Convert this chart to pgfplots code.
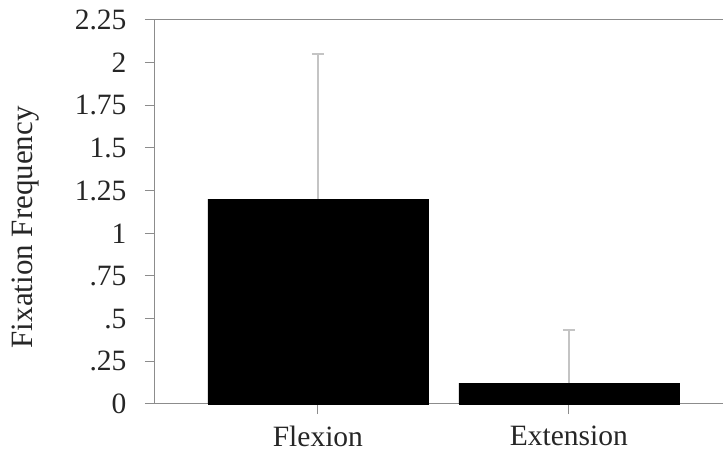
\documentclass[border=0pt]{standalone}
\usepackage{fontspec}
\setmainfont{Liberation Serif}
\usepackage{pgfplots}
\pgfplotsset{compat=1.18}
\definecolor{axgray}{HTML}{8C8C8C}
\definecolor{errgray}{HTML}{C4C4C4}
\begin{document}
\begin{tikzpicture}
\begin{axis}[
  name=ax,
  scale only axis,
  width=568pt, height=384pt,
  xmin=0.351, xmax=2.614,
  ymin=0, ymax=2.25,
  axis x line=box,
  axis y line=left,
  xtick pos=bottom,
  axis line style={-, draw=axgray, line width=1pt},
  tick align=outside,
  major tick length=10pt,
  tick style={draw=axgray, line width=1pt},
  xtick={1,2},
  xticklabels={Flexion,Extension},
  x tick label style={yshift=-8pt},
  ytick={0,0.25,0.5,0.75,1,1.25,1.5,1.75,2,2.25},
  yticklabels={0,.25,.5,.75,1,1.25,1.5,1.75,2,2.25},
  y tick label style={xshift=-15pt},
  ticklabel style={font=\fontsize{29.5}{34}\selectfont, text=black!85},
  ylabel={Fixation Frequency},
  every axis y label/.style={at={(axis description cs:-0.228,0.46)}, rotate=90, anchor=center, font=\fontsize{31}{36}\selectfont, text=black!85},
  ybar, bar width=220pt,
  clip=false,
]
\addplot[fill=black, draw=black,
  error bars/.cd, y dir=plus, y explicit,
  error bar style={draw=errgray, line width=1.6pt},
  error mark options={rotate=90, mark size=6pt, draw=errgray, line width=1.6pt}]
  coordinates {(1,1.2) +- (0,0.85) (2,0.123) +- (0,0.31)};
\end{axis}
\pgfresetboundingbox
\useasboundingbox ([xshift=-155pt,yshift=-48pt]ax.south west) rectangle ([yshift=20pt]ax.north east);
\end{tikzpicture}
\end{document}
